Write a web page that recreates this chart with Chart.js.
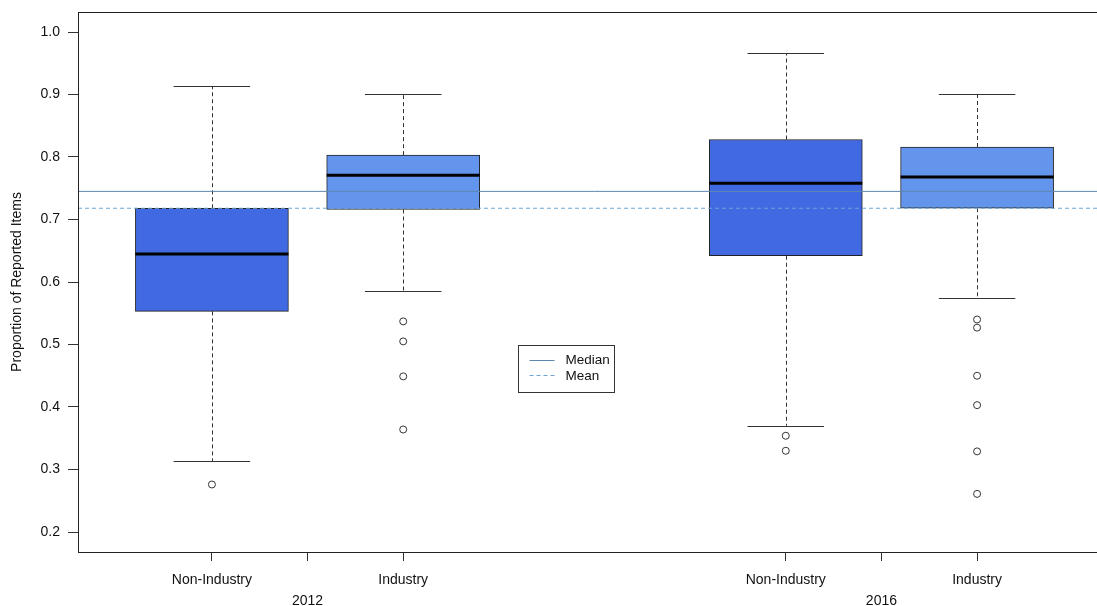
<!DOCTYPE html>
<html>
<head>
<meta charset="utf-8">
<script src="https://cdn.jsdelivr.net/npm/chart.js@4"></script>
<style>
  html, body { margin: 0; padding: 0; background: #fff; overflow: hidden; }
  canvas { display: block; }
</style>
</head>
<body>
<canvas id="boxChart" width="1120" height="606" style="width:1120px;height:606px"></canvas>
<script>
// data
let categories = ["Non-Industry", "Industry", "Non-Industry", "Industry"];
let years = ["2012", "2016"];
let positions = [1, 2, 4, 5];
let yearPositions = [1.5, 4.5];
let whiskerLow = [0.313, 0.586, 0.370, 0.574];
let q1 = [0.553, 0.716, 0.642, 0.718];
let median = [0.645, 0.771, 0.758, 0.768];
let q3 = [0.718, 0.803, 0.828, 0.816];
let whiskerHigh = [0.913, 0.901, 0.966, 0.901];
let outliers = [
    [0.276],
    [0.537, 0.505, 0.449, 0.364],
    [0.354, 0.330],
    [0.540, 0.527, 0.450, 0.403, 0.329, 0.261]
];
let overallMedian = 0.745;
let overallMean = 0.718;
let yTicks = [0.2, 0.3, 0.4, 0.5, 0.6, 0.7, 0.8, 0.9, 1.0];

const boxColors = ["#4169E1", "#6495ED", "#4169E1", "#6495ED"];
const boxWidth = 0.8;
const xMin = 0.3, xMax = 5.7;
const FONT = "'Liberation Sans', Arial, sans-serif";

/* outlier points */
let outlierPoints = [];
outliers.forEach((list, i) => {
    list.forEach(v => outlierPoints.push({ x: positions[i], y: v }));
});

/* whiskers, medians, frame, legend */
const boxExtras = {
    id: "boxExtras",
    beforeDatasetsDraw(chart) {
        const ctx = chart.ctx;
        const xs = chart.scales.x, ys = chart.scales.y;
        ctx.save();
        ctx.strokeStyle = "#333";
        ctx.lineWidth = 1;
        positions.forEach((p, i) => {
            let cx = Math.round(xs.getPixelForValue(p)) + 0.5;
            // dashed whisker lines
            ctx.setLineDash([4, 3]);
            ctx.beginPath();
            ctx.moveTo(cx, ys.getPixelForValue(q3[i]));
            ctx.lineTo(cx, ys.getPixelForValue(whiskerHigh[i]));
            ctx.moveTo(cx, ys.getPixelForValue(q1[i]));
            ctx.lineTo(cx, ys.getPixelForValue(whiskerLow[i]));
            ctx.stroke();
            // caps
            ctx.setLineDash([]);
            let l = xs.getPixelForValue(p - boxWidth / 4);
            let r = xs.getPixelForValue(p + boxWidth / 4);
            ctx.beginPath();
            [whiskerHigh[i], whiskerLow[i]].forEach(v => {
                let y = Math.round(ys.getPixelForValue(v)) + 0.5;
                ctx.moveTo(l, y);
                ctx.lineTo(r, y);
            });
            ctx.stroke();
        });
        ctx.restore();
    },
    afterDatasetsDraw(chart) {
        const ctx = chart.ctx;
        const xs = chart.scales.x, ys = chart.scales.y;
        const a = chart.chartArea;
        ctx.save();
        // medians
        ctx.strokeStyle = "#000";
        ctx.lineWidth = 3;
        positions.forEach((p, i) => {
            let y = ys.getPixelForValue(median[i]);
            ctx.beginPath();
            ctx.moveTo(xs.getPixelForValue(p - boxWidth / 2), y);
            ctx.lineTo(xs.getPixelForValue(p + boxWidth / 2), y);
            ctx.stroke();
        });
        // frame
        ctx.lineWidth = 1;
        ctx.strokeStyle = "#222";
        ctx.strokeRect(a.left + 0.5, a.top + 0.5, a.right - a.left - 1, a.bottom - a.top);

        // legend
        let lx = Math.round(xs.getPixelForValue(2.6)) + 0.5;
        let ly = Math.round(ys.getPixelForValue(0.5)) + 0.5;
        ctx.strokeStyle = "#333";
        ctx.strokeRect(lx, ly, 96, 47);
        ctx.lineWidth = 1;
        ctx.strokeStyle = "#5E87B0";
        ctx.beginPath();
        ctx.moveTo(lx + 11, ly + 15);
        ctx.lineTo(lx + 36, ly + 15);
        ctx.stroke();
        ctx.strokeStyle = "#6FA5D6";
        ctx.setLineDash([4, 3]);
        ctx.beginPath();
        ctx.moveTo(lx + 11, ly + 30);
        ctx.lineTo(lx + 36, ly + 30);
        ctx.stroke();
        ctx.setLineDash([]);
        ctx.fillStyle = "#111";
        ctx.font = "13.5px " + FONT;
        ctx.textBaseline = "middle";
        ctx.textAlign = "left";
        ctx.fillText("Median", lx + 47, ly + 15);
        ctx.fillText("Mean", lx + 47, ly + 31);
        ctx.restore();
    }
};

new Chart(document.getElementById("boxChart"), {
    type: "bar",
    data: {
        datasets: [
            {
                type: "line",
                label: "Median",
                data: [{ x: xMin, y: overallMedian }, { x: xMax, y: overallMedian }],
                borderColor: "#5E87B0",
                borderWidth: 1,
                pointRadius: 0,
                order: 0
            },
            {
                type: "line",
                label: "Mean",
                data: [{ x: xMin, y: overallMean }, { x: xMax, y: overallMean }],
                borderColor: "#6FA5D6",
                borderWidth: 1,
                borderDash: [4, 3],
                pointRadius: 0,
                order: 0
            },
            {
                type: "scatter",
                label: "Outliers",
                data: outlierPoints,
                pointRadius: 3.5,
                pointBorderColor: "#333",
                pointBackgroundColor: "rgba(0,0,0,0)",
                pointBorderWidth: 1,
                order: 1
            },
            {
                type: "bar",
                label: "Boxes",
                data: positions.map((p, i) => ({ x: p, y: [q1[i], q3[i]] })),
                backgroundColor: boxColors,
                borderColor: "#222",
                borderWidth: 1,
                borderSkipped: false,
                barThickness: (c) => {
                    const xs = c.chart.scales.x;
                    return xs.getPixelForValue(boxWidth) - xs.getPixelForValue(0);
                },
                order: 2
            }
        ]
    },
    options: {
        responsive: false,
        devicePixelRatio: 1,
        animation: false,
        layout: { padding: { top: 12, right: 9, left: 0, bottom: 0 } },
        plugins: {
            legend: { display: false },
            tooltip: { enabled: false }
        },
        scales: {
            x: {
                type: "linear",
                min: xMin,
                max: xMax,
                offset: false,
                afterBuildTicks: (s) => {
                    let t = positions.concat(yearPositions).sort((a, b) => a - b);
                    s.ticks = t.map(v => ({ value: v }));
                },
                afterFit: (s) => {
                    s.height = 54;
                    s.paddingLeft = 0;
                    s.paddingRight = 0;
                },
                ticks: {
                    autoSkip: false,
                    maxRotation: 0,
                    padding: 8.5,
                    color: "#111",
                    font: { family: FONT, size: 14, lineHeight: 1.5 },
                    callback: (v) => {
                        let i = positions.indexOf(v);
                        if (i >= 0) return categories[i];
                        let j = yearPositions.indexOf(v);
                        if (j >= 0) return ["", years[j]];
                        return "";
                    }
                },
                grid: { offset: false, drawOnChartArea: false, tickLength: 9, color: "#333" },
                border: { display: true, color: "#222" }
            },
            y: {
                min: 0.168,
                max: 1.032,
                afterBuildTicks: (s) => { s.ticks = yTicks.map(v => ({ value: v })); },
                afterFit: (s) => {
                    s.width = 78;
                    s.paddingTop = 0;
                    s.paddingBottom = 0;
                },
                ticks: {
                    padding: 8,
                    color: "#111",
                    font: { family: FONT, size: 14 },
                    callback: (v) => v.toFixed(1)
                },
                grid: { drawOnChartArea: false, tickLength: 10, color: "#333" },
                border: { display: true, color: "#222" },
                title: {
                    display: true,
                    text: "Proportion of Reported Items",
                    color: "#111",
                    font: { family: FONT, size: 14 },
                    padding: { top: 9, bottom: 0 }
                }
            }
        }
    },
    plugins: [boxExtras]
});
</script>
</body>
</html>
